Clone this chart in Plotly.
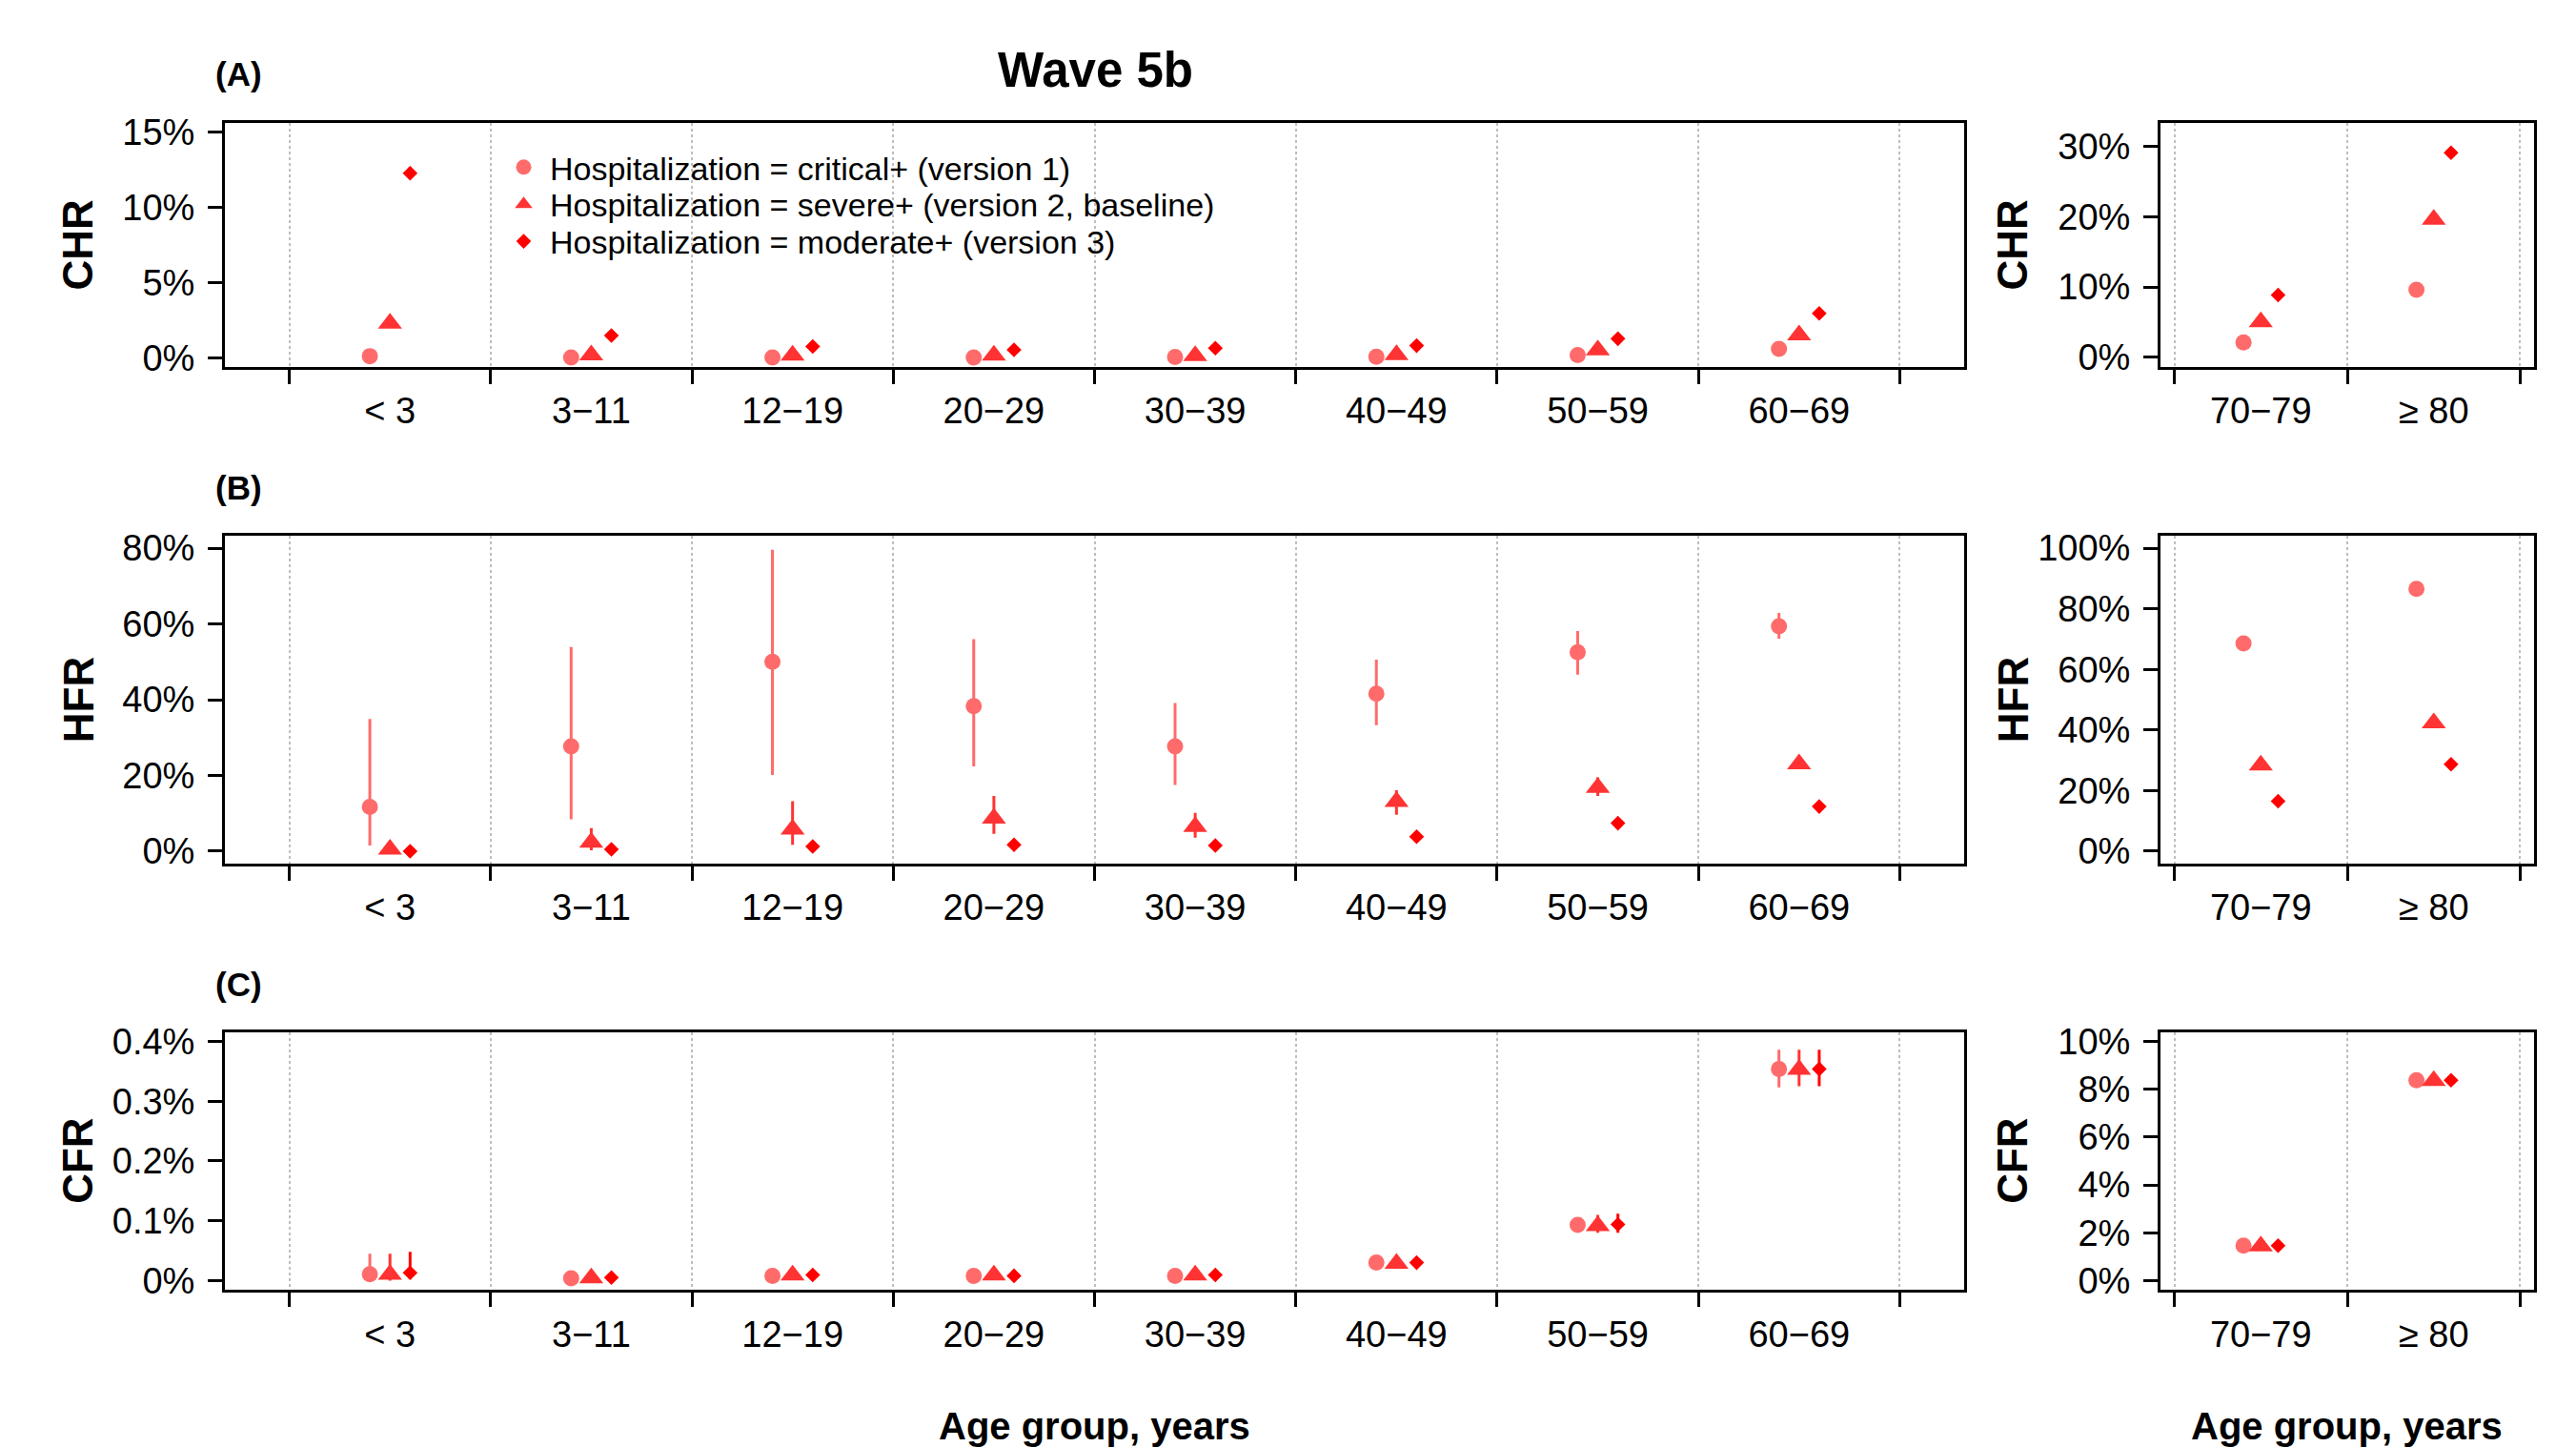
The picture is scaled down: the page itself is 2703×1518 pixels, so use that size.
import numpy as np
import plotly.graph_objects as go

FONT = "Liberation Sans, Arial, sans-serif"

# ---------------- categories / labels ----------------
left_groups = ["< 3", "3\u221211", "12\u221219", "20\u221229", "30\u221239", "40\u221249", "50\u221259", "60\u221269"]
right_groups = ["70\u221279", "\u2265 80"]
series_names = [
    "Hospitalization = critical+ (version 1)",
    "Hospitalization = severe+ (version 2, baseline)",
    "Hospitalization = moderate+ (version 3)",
]

# ---------------- tick labels ----------------
chr_left_ticks = [0, 5, 10, 15]
chr_left_ticktext = ["0%", "5%", "10%", "15%"]
chr_right_ticks = [0, 10, 20, 30]
chr_right_ticktext = ["0%", "10%", "20%", "30%"]
hfr_left_ticks = [0, 20, 40, 60, 80]
hfr_left_ticktext = ["0%", "20%", "40%", "60%", "80%"]
hfr_right_ticks = [0, 20, 40, 60, 80, 100]
hfr_right_ticktext = ["0%", "20%", "40%", "60%", "80%", "100%"]
cfr_left_ticks = [0, 0.1, 0.2, 0.3, 0.4]
cfr_left_ticktext = ["0%", "0.1%", "0.2%", "0.3%", "0.4%"]
cfr_right_ticks = [0, 2, 4, 6, 8, 10]
cfr_right_ticktext = ["0%", "2%", "4%", "6%", "8%", "10%"]

# ---------------- data (percent) ----------------
# CHR, age < 70
chr_l_v1 = [0.10, 0.02, 0.02, 0.02, 0.05, 0.06, 0.17, 0.59]
chr_l_v1_lo = [0.08, 0.01, 0.01, 0.01, 0.04, 0.05, 0.15, 0.55]
chr_l_v1_hi = [0.13, 0.03, 0.03, 0.03, 0.06, 0.07, 0.19, 0.63]
chr_l_v2 = [2.28, 0.17, 0.15, 0.15, 0.13, 0.19, 0.50, 1.50]
chr_l_v2_lo = [2.15, 0.15, 0.13, 0.13, 0.12, 0.17, 0.47, 1.45]
chr_l_v2_hi = [2.42, 0.19, 0.17, 0.17, 0.15, 0.21, 0.53, 1.56]
chr_l_v3 = [12.28, 1.47, 0.74, 0.52, 0.63, 0.80, 1.26, 2.95]
chr_l_v3_lo = [11.90, 1.42, 0.71, 0.50, 0.61, 0.77, 1.22, 2.88]
chr_l_v3_hi = [12.70, 1.52, 0.77, 0.55, 0.66, 0.83, 1.30, 3.02]
# CHR, age >= 70
chr_r_v1 = [2.1, 9.6]
chr_r_v1_lo = [2.0, 9.3]
chr_r_v1_hi = [2.2, 9.9]
chr_r_v2 = [5.0, 19.6]
chr_r_v2_lo = [4.9, 19.2]
chr_r_v2_hi = [5.1, 20.0]
chr_r_v3 = [8.85, 29.1]
chr_r_v3_lo = [8.7, 28.6]
chr_r_v3_hi = [9.0, 29.6]

# HFR, age < 70
hfr_l_v1 = [11.7, 27.7, 50.0, 38.3, 27.7, 41.6, 52.5, 59.4]
hfr_l_v1_lo = [1.5, 8.4, 20.1, 22.4, 17.5, 33.3, 46.6, 56.1]
hfr_l_v1_hi = [34.9, 53.9, 79.6, 56.0, 39.1, 50.6, 58.1, 62.9]
hfr_l_v2 = [0.5, 2.3, 5.8, 8.7, 6.5, 13.1, 16.8, 23.0]
hfr_l_v2_lo = [0.1, 0.25, 1.7, 4.6, 3.6, 9.6, 14.6, 22.5]
hfr_l_v2_hi = [1.5, 6.1, 13.2, 14.6, 10.1, 16.1, 19.5, 24.6]
hfr_l_v3 = [0.0, 0.5, 1.26, 1.7, 1.5, 3.85, 7.4, 11.8]
hfr_l_v3_lo = [0.0, 0.3, 1.0, 1.4, 1.2, 3.5, 7.0, 11.4]
hfr_l_v3_hi = [0.2, 0.8, 1.6, 2.1, 1.8, 4.2, 7.8, 12.2]
# HFR, age >= 70
hfr_r_v1 = [68.6, 86.6]
hfr_r_v1_lo = [68.0, 86.0]
hfr_r_v1_hi = [69.2, 87.2]
hfr_r_v2 = [28.4, 42.3]
hfr_r_v2_lo = [27.9, 41.8]
hfr_r_v2_hi = [28.9, 42.8]
hfr_r_v3 = [16.5, 28.7]
hfr_r_v3_lo = [16.1, 28.3]
hfr_r_v3_hi = [16.9, 29.1]

# CFR, age < 70
cfr_l_v1 = [0.0106, 0.0040, 0.0080, 0.0080, 0.0080, 0.0300, 0.0930, 0.3540]
cfr_l_v1_lo = [0.0000, 0.0030, 0.0070, 0.0070, 0.0070, 0.0270, 0.0850, 0.3230]
cfr_l_v1_hi = [0.0450, 0.0050, 0.0090, 0.0090, 0.0090, 0.0330, 0.1000, 0.3860]
cfr_l_v2 = [0.0104, 0.0044, 0.0091, 0.0091, 0.0091, 0.0287, 0.0915, 0.3530]
cfr_l_v2_lo = [0.0000, 0.0034, 0.0080, 0.0080, 0.0080, 0.0260, 0.0800, 0.3250]
cfr_l_v2_hi = [0.0450, 0.0054, 0.0102, 0.0102, 0.0102, 0.0315, 0.1100, 0.3860]
cfr_l_v3 = [0.0130, 0.0050, 0.0095, 0.0080, 0.0095, 0.0300, 0.0940, 0.3540]
cfr_l_v3_lo = [0.0030, 0.0040, 0.0085, 0.0070, 0.0085, 0.0275, 0.0800, 0.3250]
cfr_l_v3_hi = [0.0480, 0.0060, 0.0105, 0.0090, 0.0105, 0.0325, 0.1120, 0.3860]
# CFR, age >= 70
cfr_r_v1 = [1.46, 8.38]
cfr_r_v1_lo = [1.40, 8.25]
cfr_r_v1_hi = [1.52, 8.51]
cfr_r_v2 = [1.44, 8.36]
cfr_r_v2_lo = [1.38, 8.23]
cfr_r_v2_hi = [1.50, 8.49]
cfr_r_v3 = [1.46, 8.38]
cfr_r_v3_lo = [1.40, 8.25]
cfr_r_v3_hi = [1.52, 8.51]

# ---------------- styles ----------------
COLORS = ["rgb(255,107,107)", "rgb(255,51,51)", "rgb(255,0,0)"]
SYMBOLS = ["circle", "triangle-up", "diamond"]
SIZES = [17, 22, 12]
OFFSETS = [0.4, 0.5, 0.6]

W, H = 2703, 1518
# the captured page is slightly compressed vertically; pre-compensate positions
Y_OFF, Y_SCALE = 7.8, 0.9876


def px_x(p):
    return p / W


def px_y(p):
    return 1 - ((p - Y_OFF) / Y_SCALE) / H


LEFT_DOM = [px_x(236), px_x(2061)]
RIGHT_DOM = [px_x(2267), px_x(2659)]
ROW_DOMS = [
    [px_y(382.5), px_y(126.5)],
    [px_y(905), px_y(560.7)],
    [px_y(1354), px_y(1082.3)],
]

panels = [
    (0, "L", [chr_l_v1, chr_l_v2, chr_l_v3], [chr_l_v1_lo, chr_l_v2_lo, chr_l_v3_lo],
     [chr_l_v1_hi, chr_l_v2_hi, chr_l_v3_hi], chr_left_ticks, chr_left_ticktext, [-0.6, 15.6]),
    (0, "R", [chr_r_v1, chr_r_v2, chr_r_v3], [chr_r_v1_lo, chr_r_v2_lo, chr_r_v3_lo],
     [chr_r_v1_hi, chr_r_v2_hi, chr_r_v3_hi], chr_right_ticks, chr_right_ticktext, [-1.35, 33.3]),
    (1, "L", [hfr_l_v1, hfr_l_v2, hfr_l_v3], [hfr_l_v1_lo, hfr_l_v2_lo, hfr_l_v3_lo],
     [hfr_l_v1_hi, hfr_l_v2_hi, hfr_l_v3_hi], hfr_left_ticks, hfr_left_ticktext, [-3.2, 83.2]),
    (1, "R", [hfr_r_v1, hfr_r_v2, hfr_r_v3], [hfr_r_v1_lo, hfr_r_v2_lo, hfr_r_v3_lo],
     [hfr_r_v1_hi, hfr_r_v2_hi, hfr_r_v3_hi], hfr_right_ticks, hfr_right_ticktext, [-4, 104]),
    (2, "L", [cfr_l_v1, cfr_l_v2, cfr_l_v3], [cfr_l_v1_lo, cfr_l_v2_lo, cfr_l_v3_lo],
     [cfr_l_v1_hi, cfr_l_v2_hi, cfr_l_v3_hi], cfr_left_ticks, cfr_left_ticktext, [-0.016, 0.416]),
    (2, "R", [cfr_r_v1, cfr_r_v2, cfr_r_v3], [cfr_r_v1_lo, cfr_r_v2_lo, cfr_r_v3_lo],
     [cfr_r_v1_hi, cfr_r_v2_hi, cfr_r_v3_hi], cfr_right_ticks, cfr_right_ticktext, [-0.4, 10.4]),
]

LEGEND_IDS = ["legend", "legend2", "legend3"]
LEGEND_ROWS = [173, 212, 251]

fig = go.Figure()
layout_axes = {}

for k, (row, side, vals, los, his, yt, ytt, yr) in enumerate(panels):
    idx = k + 1
    xname = "x" if idx == 1 else f"x{idx}"
    yname = "y" if idx == 1 else f"y{idx}"
    groups = left_groups if side == "L" else right_groups
    n = len(groups)
    base = np.arange(1, n + 1)
    for s in range(3):
        v = np.array(vals[s], dtype=float)
        lo = np.array(los[s], dtype=float)
        hi = np.array(his[s], dtype=float)
        fig.add_trace(go.Scatter(
            x=base + OFFSETS[s], y=v, mode="markers",
            name=series_names[s], showlegend=(idx == 1), legend=LEGEND_IDS[s],
            marker=dict(symbol=SYMBOLS[s], size=SIZES[s], color=COLORS[s], line=dict(width=0)),
            error_y=dict(type="data", symmetric=False, array=hi - v, arrayminus=v - lo,
                         color=COLORS[s], thickness=3, width=0),
            xaxis=xname, yaxis=yname,
        ))
    xdom = LEFT_DOM if side == "L" else RIGHT_DOM
    ext = 0.04 * n
    layout_axes["xaxis" if idx == 1 else f"xaxis{idx}"] = dict(
        domain=xdom, anchor=yname, range=[1 - ext, n + 1 + ext],
        tickmode="array", tickvals=[i + 0.5 for i in base], ticktext=groups,
        ticks="", showgrid=False, zeroline=False,
        showline=True, mirror=True, linecolor="black", linewidth=3,
        tickfont=dict(size=38, color="black", family=FONT), ticklabelstandoff=11,
        minor=dict(tickmode="array", tickvals=list(range(1, n + 2)), ticks="outside",
                   ticklen=15, tickwidth=3, tickcolor="black",
                   showgrid=True, griddash="dot", gridcolor="#BEBEBE", gridwidth=2),
        fixedrange=True,
    )
    layout_axes["yaxis" if idx == 1 else f"yaxis{idx}"] = dict(
        domain=ROW_DOMS[row], anchor=xname, range=yr,
        tickmode="array", tickvals=yt, ticktext=ytt,
        ticks="outside", ticklen=15, tickwidth=3, tickcolor="black",
        showgrid=False, zeroline=False,
        showline=True, mirror=True, linecolor="black", linewidth=3,
        tickfont=dict(size=38, color="black", family=FONT), ticklabelstandoff=6,
        fixedrange=True,
    )

annotations = []
annotations.append(dict(text="<b>Wave 5b</b>", x=px_x(1149), y=px_y(70), xref="paper", yref="paper",
                        showarrow=False, font=dict(size=51, color="black", family=FONT),
                        xanchor="center", yanchor="middle"))
for lab, yy in [("(A)", 74), ("(B)", 510), ("(C)", 1032)]:
    annotations.append(dict(text=f"<b>{lab}</b>", x=px_x(224), y=px_y(yy), xref="paper", yref="paper",
                            showarrow=False, font=dict(size=35, color="black", family=FONT),
                            xanchor="left", yanchor="middle"))
row_centers = [255, 733, 1218]
for lab, yc in zip(["CHR", "HFR", "CFR"], row_centers):
    for xc in [82, 2112]:
        annotations.append(dict(text=f"<b>{lab}</b>", x=px_x(xc), y=px_y(yc), xref="paper", yref="paper",
                                showarrow=False, textangle=-90,
                                font=dict(size=44, color="black", family=FONT),
                                xanchor="center", yanchor="middle"))
for xc in [1148, 2462]:
    annotations.append(dict(text="<b>Age group, years</b>", x=px_x(xc), y=px_y(1497), xref="paper", yref="paper",
                            showarrow=False, font=dict(size=40, color="black", family=FONT),
                            xanchor="center", yanchor="middle"))

legend_layout = {}
for lid, ry in zip(LEGEND_IDS, LEGEND_ROWS):
    legend_layout[lid] = dict(
        x=px_x(522), y=px_y(ry), xanchor="left", yanchor="middle",
        bgcolor="rgba(0,0,0,0)", borderwidth=0,
        font=dict(size=34, color="black", family=FONT),
        itemsizing="trace", itemwidth=45,
    )

fig.update_layout(
    width=W, height=H, autosize=False,
    margin=dict(l=0, r=0, t=0, b=0),
    paper_bgcolor="white", plot_bgcolor="white",
    font=dict(family=FONT, color="black"),
    showlegend=True,
    annotations=annotations,
    **legend_layout,
    **layout_axes,
)

POST = (
    "document.body.style.margin='0';"
    "document.body.style.padding='0';"
    "document.documentElement.style.overflow='hidden';"
    "var gd=document.getElementById('{plot_id}');"
    "gd.style.position='absolute';gd.style.left='0px';gd.style.top='0px';"
)

fig.write_html("out.html", post_script=POST, config={"displayModeBar": False})
